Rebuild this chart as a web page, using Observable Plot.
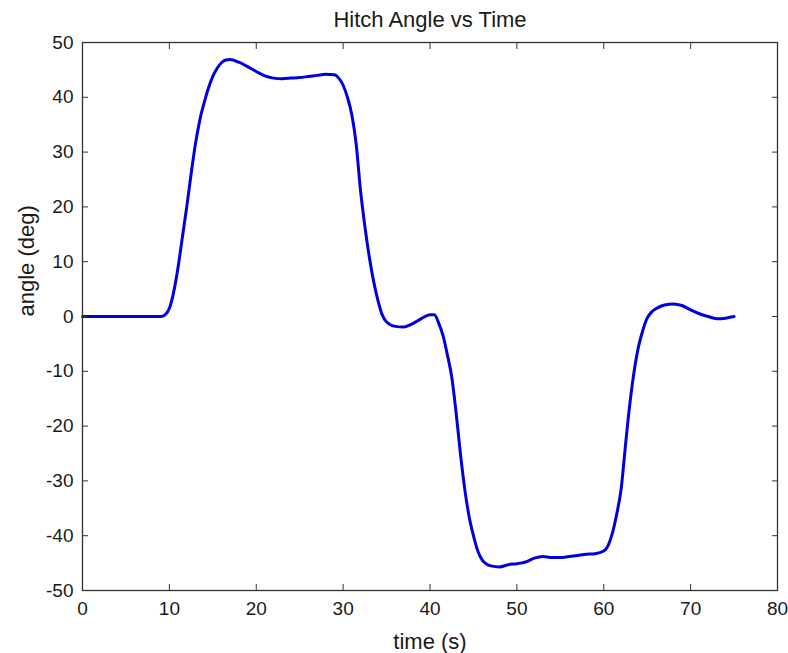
<!DOCTYPE html>
<html><head><meta charset="utf-8">
<script src="https://cdn.jsdelivr.net/npm/d3@7"></script>
<script src="https://cdn.jsdelivr.net/npm/@observablehq/plot@0.6"></script>
<style>html,body{margin:0;padding:0;background:#fff} #chart svg{display:block}</style>
</head><body><div id="chart"></div>
<script>
const title = "Hitch Angle vs Time";
const xLabel = "time (s)";
const yLabel = "angle (deg)";
const xTicks = [0, 10, 20, 30, 40, 50, 60, 70, 80];
const yTicks = [-50, -40, -30, -20, -10, 0, 10, 20, 30, 40, 50];
const time = [
  0, 9, 9.5, 10, 10.5, 11, 11.5, 12, 12.5, 13,
  13.5, 14, 14.5, 15, 15.5, 16, 16.5, 17, 18, 19,
  20, 21, 22, 23, 24, 25, 26, 27, 28, 29,
  29.5, 30, 30.5, 31, 31.5, 32, 32.5, 33, 33.5, 34,
  34.5, 35, 36, 37, 38, 39, 40, 40.5, 41, 41.5,
  42, 42.5, 43, 43.5, 44, 44.5, 45, 45.5, 46, 47,
  48, 49, 50, 51, 52, 53, 54, 55, 56, 57,
  58, 59, 60, 60.5, 61, 61.5, 62, 62.5, 63, 63.5,
  64, 64.5, 65, 65.5, 66, 67, 68, 69, 70, 71,
  72, 73, 74, 75
];
const angle = [
  0, 0, 0.3, 1.5, 4.5, 9, 14.5, 20, 26, 31.5,
  35.8, 39, 41.7, 43.8, 45.3, 46.3, 46.8, 46.9, 46.4, 45.6,
  44.7, 43.9, 43.5, 43.4, 43.5, 43.6, 43.8, 44, 44.2, 44.1,
  43.5, 42.2, 40, 36.8, 31.5, 23, 16.5, 11, 6.5, 3,
  0.3, -1, -1.8, -1.9, -1.3, -0.4, 0.3, 0.3, -1.2, -3.5,
  -7, -11, -17.5, -25, -31.5, -36.5, -40, -42.8, -44.4, -45.5,
  -45.7, -45.3, -45.1, -44.8, -44.1, -43.8, -44, -44, -43.8, -43.6,
  -43.4, -43.3, -42.8, -41.8, -39.5, -36, -31.5, -23.5, -16, -10,
  -5.5, -2.5, -0.3, 0.8, 1.4, 2.1, 2.3, 2, 1.2, 0.5,
  0, -0.4, -0.3, 0
];
const data = time.map((t, i) => ({t, a: angle[i]}));

const chart = Plot.plot({
  width: 788, height: 653,
  marginTop: 42, marginLeft: 82, marginRight: 11, marginBottom: 63,
  style: {fontFamily: "'Liberation Sans', Arial, sans-serif", fontSize: "19px", color: "#1a1a1a", background: "#fff"},
  x: {domain: [0, 80]},
  y: {domain: [-50, 50]},
  marks: [
    Plot.line(data, {x: "t", y: "a", stroke: "#0000dd", strokeWidth: 3, curve: "monotone-x"}),
    Plot.frame({stroke: "#333", strokeWidth: 1.3}),
    Plot.axisX(xTicks, {anchor: "bottom", tickSize: -6, tickPadding: 17, label: null, stroke: "#333", tickFormat: d => String(d)}),
    Plot.axisX(xTicks, {anchor: "top", tickSize: -6, tickFormat: () => "", label: null, stroke: "#333"}),
    Plot.axisY(yTicks, {anchor: "left", tickSize: -6, tickPadding: 15, label: null, stroke: "#333", tickFormat: d => String(d)}),
    Plot.axisY(yTicks, {anchor: "right", tickSize: -6, tickFormat: () => "", label: null, stroke: "#333"}),
    Plot.text([title], {frameAnchor: "top", dy: -16, lineAnchor: "bottom", fontSize: 22}),
    Plot.text([xLabel], {frameAnchor: "bottom", dy: 58, lineAnchor: "bottom", fontSize: 22}),
    Plot.text([yLabel], {frameAnchor: "left", dx: -49, rotate: -90, lineAnchor: "bottom", fontSize: 22})
  ]
});
document.getElementById("chart").appendChild(chart);
</script>
</body></html>
